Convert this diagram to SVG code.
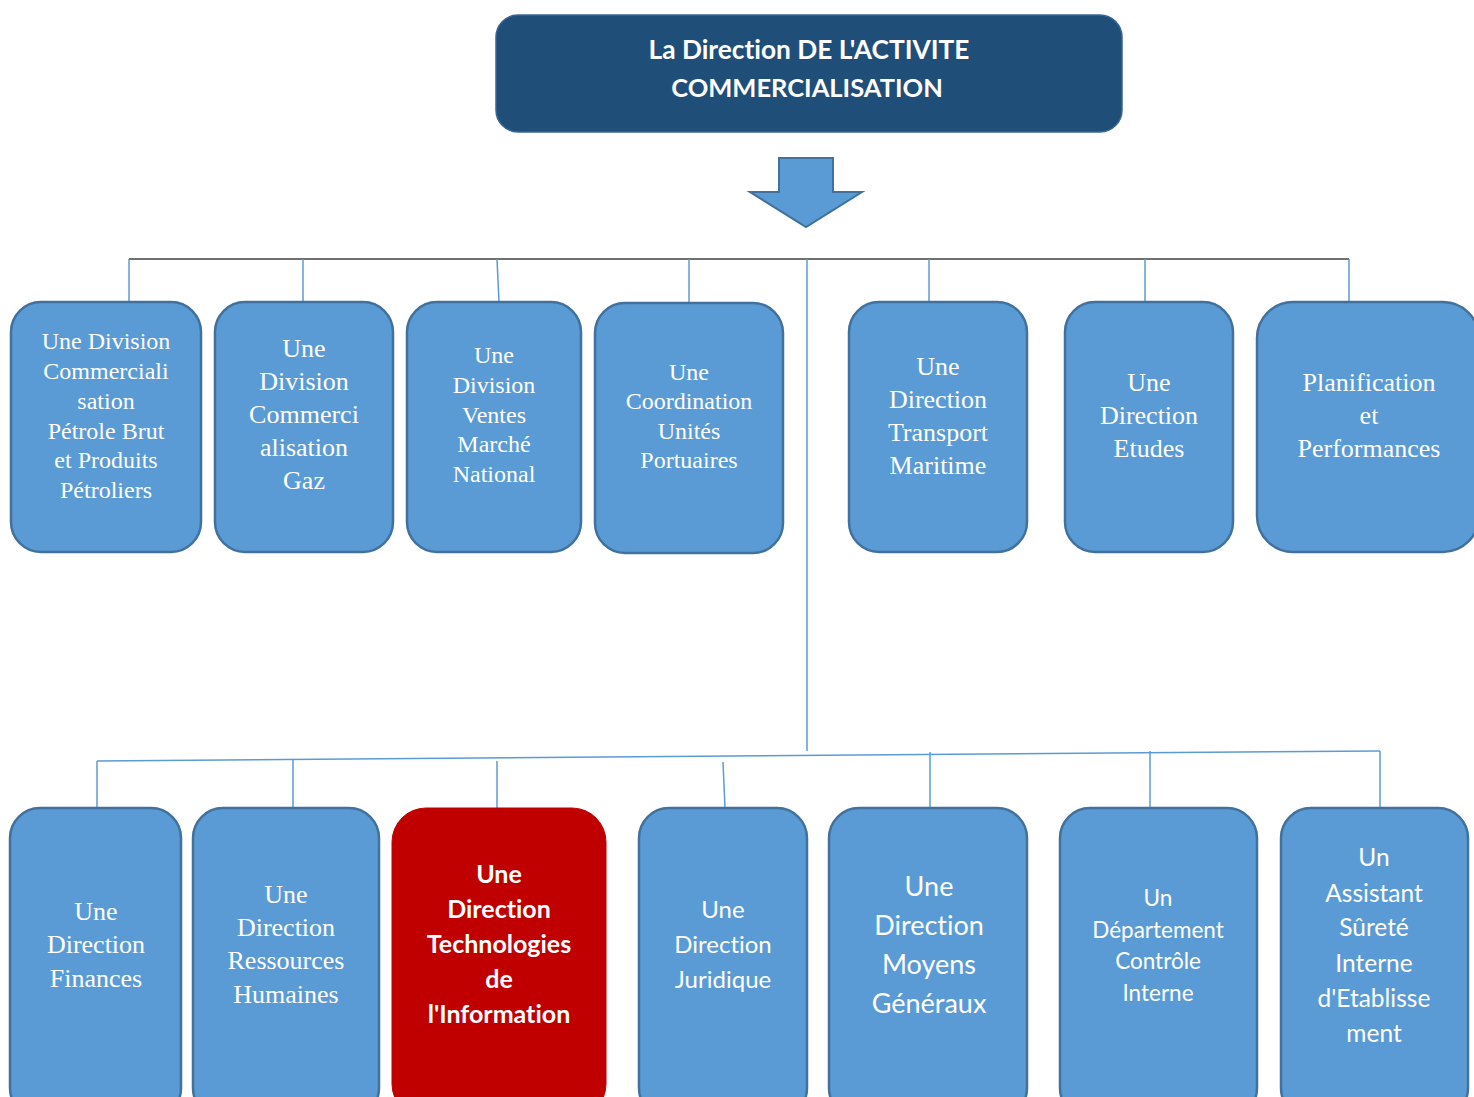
<svg xmlns="http://www.w3.org/2000/svg" width="1474" height="1097" viewBox="0 0 1474 1097">
  <style>
    .box { fill: #5B9BD5; stroke: #41719C; stroke-width: 2.5; }
    .red { fill: #C00000; stroke: #C00000; stroke-width: 1; }
    .head { fill: #1F4E79; stroke: #3A6591; stroke-width: 1.5; }
    .serif { font-family: "Liberation Serif", "Times New Roman", serif; fill: #FFFFFF; text-anchor: middle; }
    .sans { font-family: Lato, "Open Sans", "Liberation Sans", sans-serif; fill: #FFFFFF; text-anchor: middle; font-variant-ligatures: none; }
    .bold { font-weight: bold; }
    .link { stroke: #5B9BD5; stroke-width: 1.5; fill: none; }
    .bus { stroke: #404040; stroke-width: 1.5; fill: none; }
  </style>

  <!-- Head of the organisation -->
  <g id="direction-commercialisation">
    <rect class="head" x="496" y="15" width="626" height="117" rx="22"/>
    <text class="sans bold" font-size="26.3" x="809" y="59">La Direction DE L'ACTIVITE</text>
    <text class="sans bold" font-size="25.5" x="807" y="97">COMMERCIALISATION</text>
  </g>

  <!-- Block arrow under the head box -->
  <g id="down-arrow">
    <polygon points="779,158 833,158 833,192 862,192 806,227 750,192 779,192" fill="#5B9BD5" stroke="#41719C" stroke-width="2"/>
  </g>

  <!-- Connectors -->
  <g id="connectors">
    <line class="bus" x1="129" y1="259" x2="1349" y2="259"/>
    <line class="link" x1="129" y1="259" x2="129" y2="302"/>
    <line class="link" x1="303" y1="259" x2="303" y2="302"/>
    <line class="link" x1="497" y1="259" x2="499" y2="302"/>
    <line class="link" x1="689" y1="259" x2="689" y2="303"/>
    <line class="link" x1="929" y1="259" x2="929" y2="302"/>
    <line class="link" x1="1145" y1="259" x2="1145" y2="302"/>
    <line class="link" x1="1349" y1="259" x2="1349" y2="302"/>
    <line class="link" x1="807" y1="259" x2="807" y2="751"/>
    <line class="link" x1="97" y1="761" x2="1380" y2="751"/>
    <line class="link" x1="97" y1="761" x2="97" y2="808"/>
    <line class="link" x1="293" y1="760" x2="293" y2="808"/>
    <line class="link" x1="497" y1="761" x2="497" y2="808"/>
    <line class="link" x1="723" y1="762" x2="725" y2="808"/>
    <line class="link" x1="930" y1="752" x2="930" y2="808"/>
    <line class="link" x1="1150" y1="751" x2="1150" y2="808"/>
    <line class="link" x1="1380" y1="751" x2="1380" y2="808"/>
  </g>

  <!-- First level -->
  <g id="div-petrole">
    <rect class="box" x="11" y="302" width="190" height="250" rx="30"/>
    <text class="serif" font-size="24"><tspan x="106" y="349">Une Division</tspan><tspan x="106" y="379">Commerciali</tspan><tspan x="106" y="409">sation</tspan><tspan x="106" y="439">Pétrole Brut</tspan><tspan x="106" y="468">et Produits</tspan><tspan x="106" y="498">Pétroliers</tspan></text>
  </g>
  <g id="div-gaz">
    <rect class="box" x="215" y="302" width="178" height="250" rx="30"/>
    <text class="serif" font-size="26"><tspan x="304" y="357">Une</tspan><tspan x="304" y="390">Division</tspan><tspan x="304" y="423">Commerci</tspan><tspan x="304" y="456">alisation</tspan><tspan x="304" y="489">Gaz</tspan></text>
  </g>
  <g id="div-ventes">
    <rect class="box" x="407" y="302" width="174" height="250" rx="30"/>
    <text class="serif" font-size="24"><tspan x="494" y="363">Une</tspan><tspan x="494" y="393">Division</tspan><tspan x="494" y="423">Ventes</tspan><tspan x="494" y="452">Marché</tspan><tspan x="494" y="482">National</tspan></text>
  </g>
  <g id="coord-portuaires">
    <rect class="box" x="595" y="303" width="188" height="250" rx="30"/>
    <text class="serif" font-size="24"><tspan x="689" y="380">Une</tspan><tspan x="689" y="409">Coordination</tspan><tspan x="689" y="439">Unités</tspan><tspan x="689" y="468">Portuaires</tspan></text>
  </g>
  <g id="dir-transport">
    <rect class="box" x="849" y="302" width="178" height="250" rx="30"/>
    <text class="serif" font-size="26"><tspan x="938" y="375">Une</tspan><tspan x="938" y="408">Direction</tspan><tspan x="938" y="441">Transport</tspan><tspan x="938" y="474">Maritime</tspan></text>
  </g>
  <g id="dir-etudes">
    <rect class="box" x="1065" y="302" width="168" height="250" rx="30"/>
    <text class="serif" font-size="26"><tspan x="1149" y="391">Une</tspan><tspan x="1149" y="424">Direction</tspan><tspan x="1149" y="457">Etudes</tspan></text>
  </g>
  <g id="planification">
    <rect class="box" x="1257" y="302" width="222" height="250" rx="36"/>
    <text class="serif" font-size="26"><tspan x="1369" y="391">Planification</tspan><tspan x="1369" y="424">et</tspan><tspan x="1369" y="457">Performances</tspan></text>
  </g>

  <!-- Second level -->
  <g id="dir-finances">
    <rect class="box" x="10" y="808" width="171" height="310" rx="30"/>
    <text class="serif" font-size="26"><tspan x="96" y="920">Une</tspan><tspan x="96" y="953">Direction</tspan><tspan x="96" y="987">Finances</tspan></text>
  </g>
  <g id="dir-rh">
    <rect class="box" x="193" y="808" width="186" height="310" rx="30"/>
    <text class="serif" font-size="26"><tspan x="286" y="903">Une</tspan><tspan x="286" y="936">Direction</tspan><tspan x="286" y="969">Ressources</tspan><tspan x="286" y="1003">Humaines</tspan></text>
  </g>
  <g id="dir-ti">
    <rect class="red" x="392" y="808" width="214" height="310" rx="34"/>
    <text class="sans bold" font-size="25"><tspan x="499" y="883">Une</tspan><tspan x="499" y="918">Direction</tspan><tspan x="499" y="953">Technologies</tspan><tspan x="499" y="988">de</tspan><tspan x="499" y="1023">l'Information</tspan></text>
  </g>
  <g id="dir-juridique">
    <rect class="box" x="639" y="808" width="168" height="310" rx="30"/>
    <text class="sans" font-size="24"><tspan x="723" y="918">Une</tspan><tspan x="723" y="953">Direction</tspan><tspan x="723" y="988">Juridique</tspan></text>
  </g>
  <g id="dir-moyens">
    <rect class="box" x="829" y="808" width="198" height="310" rx="30"/>
    <text class="sans" font-size="27"><tspan x="929" y="896">Une</tspan><tspan x="929" y="935">Direction</tspan><tspan x="929" y="974">Moyens</tspan><tspan x="929" y="1013">Généraux</tspan></text>
  </g>
  <g id="dep-controle">
    <rect class="box" x="1060" y="808" width="197" height="310" rx="30"/>
    <text class="sans" font-size="22.5"><tspan x="1158" y="906">Un</tspan><tspan x="1158" y="938">Département</tspan><tspan x="1158" y="969">Contrôle</tspan><tspan x="1158" y="1001">Interne</tspan></text>
  </g>
  <g id="assistant-surete">
    <rect class="box" x="1281" y="808" width="187" height="310" rx="30"/>
    <text class="sans" font-size="24.5"><tspan x="1374" y="866">Un</tspan><tspan x="1374" y="902">Assistant</tspan><tspan x="1374" y="936">Sûreté</tspan><tspan x="1374" y="972">Interne</tspan><tspan x="1374" y="1007">d'Etablisse</tspan><tspan x="1374" y="1042">ment</tspan></text>
  </g>
</svg>
